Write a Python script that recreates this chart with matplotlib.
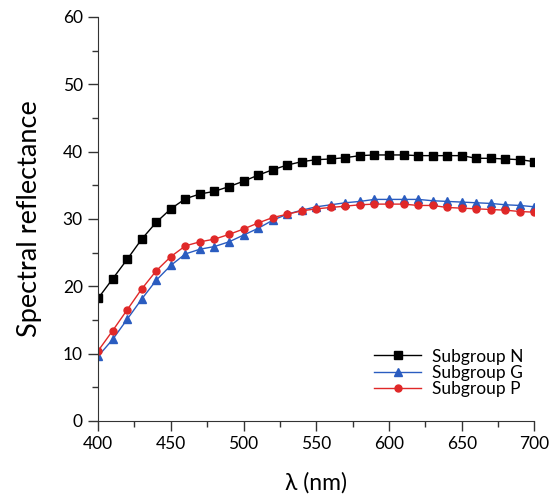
import matplotlib
matplotlib.use('Agg')
import matplotlib.pyplot as plt
from matplotlib.ticker import MultipleLocator

plt.rcParams['font.family'] = ['Lato', 'DejaVu Sans']

wavelength = list(range(400, 701, 10))

subgroup_n = [18.2, 21.1, 24.0, 27.0, 29.5, 31.5, 33.0, 33.7, 34.1, 34.8,
              35.6, 36.5, 37.3, 38.0, 38.5, 38.8, 38.9, 39.1, 39.4, 39.5,
              39.5, 39.5, 39.4, 39.4, 39.4, 39.4, 39.0, 39.0, 38.9, 38.8, 38.5]
subgroup_g = [9.6, 12.1, 15.1, 18.1, 20.9, 23.1, 24.8, 25.5, 25.9, 26.6,
              27.6, 28.6, 29.8, 30.7, 31.3, 31.8, 32.1, 32.4, 32.6, 32.9,
              32.9, 32.9, 32.9, 32.7, 32.6, 32.5, 32.4, 32.3, 32.1, 32.0, 31.8]
subgroup_p = [10.4, 13.4, 16.5, 19.6, 22.3, 24.4, 26.0, 26.6, 27.0, 27.7,
              28.5, 29.4, 30.2, 30.7, 31.2, 31.5, 31.7, 31.9, 32.1, 32.2,
              32.2, 32.2, 32.0, 32.0, 31.7, 31.6, 31.5, 31.4, 31.3, 31.1, 31.0]

fig = plt.figure(figsize=(5.51, 4.97), dpi=100)
ax = fig.add_axes([0.178, 0.153, 0.792, 0.813])

ax.plot(wavelength, subgroup_n, color='black', lw=1, marker='s', ms=5.5, label='Subgroup N')
ax.plot(wavelength, subgroup_g, color='#2a5cc0', lw=1, marker='^', ms=5.5, label='Subgroup G')
ax.plot(wavelength, subgroup_p, color='#e02828', lw=1, marker='o', ms=5, label='Subgroup P')

ax.set_xlim(400, 700)
ax.set_ylim(0, 60)
ax.xaxis.set_major_locator(MultipleLocator(50))
ax.xaxis.set_minor_locator(MultipleLocator(25))
ax.yaxis.set_major_locator(MultipleLocator(10))
ax.yaxis.set_minor_locator(MultipleLocator(5))
ax.tick_params(which='major', direction='out', length=7, width=1, labelsize=12.5, pad=4)
ax.tick_params(which='minor', direction='out', length=4, width=1)
for s in ['top', 'right']:
    ax.spines[s].set_visible(False)
ax.spines['left'].set_color('#333333')
ax.spines['bottom'].set_color('#333333')
ax.tick_params(colors='#333333', which='both', labelcolor='black')

ax.set_xlabel('λ (nm)', fontsize=16.5, labelpad=14)
ax.set_ylabel('Spectral reflectance', fontsize=19.5, labelpad=15)

ax.legend(loc='lower right', bbox_to_anchor=(1.01, 0.02), frameon=False, fontsize=12.5,
          handlelength=2.7, handletextpad=0.6, labelspacing=0.02)

fig.savefig('out.png', dpi=100)
